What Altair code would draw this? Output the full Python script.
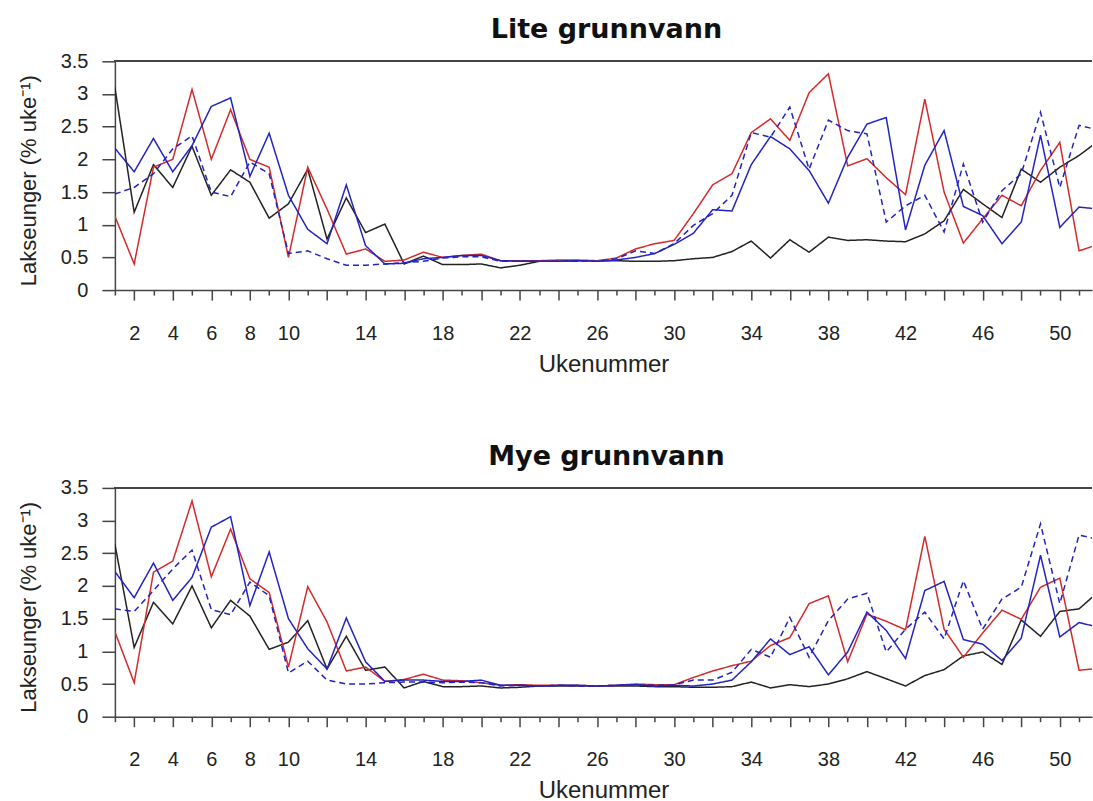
import altair as alt
import pandas as pd

weeks = list(range(1, 53))

# Lite grunnvann (top panel)
black_top = [3.10, 1.19, 1.92, 1.57, 2.20, 1.45, 1.84, 1.65, 1.10, 1.32, 1.85, 0.78, 1.41, 0.88, 1.01, 0.40,
             0.52, 0.39, 0.39, 0.40, 0.34, 0.38, 0.44, 0.44, 0.45, 0.45, 0.45, 0.44, 0.44, 0.45, 0.48, 0.50,
             0.59, 0.75, 0.49, 0.77, 0.58, 0.81, 0.76, 0.77, 0.75, 0.74, 0.86, 1.06, 1.54, 1.32, 1.11, 1.85,
             1.65, 1.88, 2.06, 2.28]
red_top = [1.13, 0.40, 1.88, 2.00, 3.07, 2.00, 2.76, 2.00, 1.88, 0.50, 1.88, 1.24, 0.55, 0.63, 0.44, 0.46,
           0.58, 0.50, 0.53, 0.55, 0.45, 0.45, 0.45, 0.46, 0.46, 0.45, 0.49, 0.63, 0.71, 0.76, 1.17, 1.61,
           1.78, 2.41, 2.62, 2.29, 3.02, 3.31, 1.90, 2.01, 1.72, 1.46, 2.92, 1.50, 0.72, 1.09, 1.45, 1.29,
           1.83, 2.26, 0.60, 0.70]
blue_top = [2.17, 1.81, 2.32, 1.81, 2.21, 2.81, 2.94, 1.74, 2.40, 1.45, 0.93, 0.71, 1.61, 0.68, 0.40, 0.41,
            0.48, 0.50, 0.53, 0.53, 0.45, 0.44, 0.44, 0.44, 0.45, 0.44, 0.46, 0.50, 0.56, 0.70, 0.87, 1.23,
            1.21, 1.92, 2.35, 2.16, 1.83, 1.33, 2.03, 2.54, 2.64, 0.92, 1.91, 2.44, 1.28, 1.14, 0.71, 1.04,
            2.37, 0.96, 1.27, 1.24]
dash_top = [1.47, 1.57, 1.78, 2.16, 2.36, 1.50, 1.43, 1.96, 1.78, 0.56, 0.60, 0.48, 0.38, 0.38, 0.40, 0.42,
            0.44, 0.49, 0.51, 0.51, 0.44, 0.44, 0.44, 0.44, 0.44, 0.44, 0.48, 0.60, 0.56, 0.71, 0.99, 1.17,
            1.45, 2.41, 2.34, 2.80, 1.85, 2.60, 2.44, 2.39, 1.04, 1.29, 1.45, 0.89, 1.93, 1.04, 1.52, 1.78,
            2.72, 1.57, 2.52, 2.45]

# Mye grunnvann (bottom panel)
black_bot = [2.64, 1.06, 1.75, 1.42, 2.00, 1.36, 1.78, 1.54, 1.03, 1.14, 1.47, 0.73, 1.23, 0.71, 0.76, 0.44,
             0.54, 0.46, 0.46, 0.47, 0.44, 0.45, 0.47, 0.47, 0.47, 0.47, 0.47, 0.47, 0.46, 0.46, 0.45, 0.45,
             0.46, 0.53, 0.44, 0.49, 0.46, 0.50, 0.58, 0.69, 0.58, 0.47, 0.63, 0.72, 0.93, 0.99, 0.80, 1.48,
             1.23, 1.61, 1.65, 1.91]
red_bot = [1.30, 0.52, 2.21, 2.38, 3.30, 2.14, 2.87, 2.11, 1.90, 0.76, 1.99, 1.45, 0.70, 0.76, 0.54, 0.57,
           0.65, 0.56, 0.55, 0.52, 0.48, 0.49, 0.48, 0.48, 0.48, 0.47, 0.48, 0.50, 0.49, 0.49, 0.60, 0.70,
           0.78, 0.85, 1.09, 1.21, 1.73, 1.85, 0.84, 1.57, 1.46, 1.33, 2.76, 1.34, 0.91, 1.28, 1.63, 1.49,
           1.98, 2.12, 0.71, 0.74]
blue_bot = [2.22, 1.82, 2.35, 1.78, 2.13, 2.90, 3.06, 1.70, 2.52, 1.50, 1.04, 0.73, 1.51, 0.84, 0.54, 0.56,
            0.56, 0.54, 0.54, 0.56, 0.48, 0.48, 0.47, 0.48, 0.48, 0.47, 0.48, 0.49, 0.47, 0.48, 0.47, 0.50,
            0.56, 0.84, 1.19, 0.95, 1.07, 0.64, 0.99, 1.60, 1.32, 0.89, 1.93, 2.07, 1.18, 1.11, 0.86, 1.20,
            2.47, 1.22, 1.44, 1.37]
dash_bot = [1.65, 1.61, 1.93, 2.26, 2.55, 1.64, 1.56, 2.06, 1.85, 0.67, 0.85, 0.56, 0.50, 0.50, 0.52, 0.53,
            0.53, 0.52, 0.53, 0.52, 0.47, 0.48, 0.47, 0.48, 0.47, 0.47, 0.48, 0.49, 0.48, 0.49, 0.56, 0.56,
            0.68, 1.03, 0.91, 1.52, 0.91, 1.47, 1.80, 1.89, 0.99, 1.34, 1.60, 1.19, 2.08, 1.34, 1.80, 1.98,
            2.95, 1.73, 2.78, 2.71]

series_names = ["svart", "rød", "blå", "blå stiplet"]
series_colors = ["#222222", "#d42a2a", "#2323c4", "#2323c4"]
series_dash = [[1, 0], [1, 0], [1, 0], [6, 4]]
y_ticks = [0, 0.5, 1, 1.5, 2, 2.5, 3, 3.5]
x_label_weeks = [2, 4, 6, 8, 10, 14, 18, 22, 26, 30, 34, 38, 42, 46, 50]

FONT = "Liberation Sans"
AXC = "#444444"


def make_df(vals):
    rows = []
    for name, arr in zip(series_names, vals):
        for w, v in zip(weeks, arr):
            rows.append({"week": w, "value": v, "series": name})
    return pd.DataFrame(rows)


label_test = "indexof(" + str(x_label_weeks) + ", datum.value) >= 0"


def panel(title, vals):
    df = make_df(vals)
    lines = alt.Chart(df).mark_line(strokeWidth=1.5, clip=True).encode(
        x=alt.X("week:Q",
                scale=alt.Scale(domain=[1, 51.67], nice=False, zero=False),
                axis=alt.Axis(values=list(range(1, 52)),
                              tickSize={"condition": {"test": "datum.value % 2 === 0", "value": 10}, "value": 5},
                              labelExpr=label_test + " ? datum.label : ''",
                              labelOverlap=False, labelFlush=False, labelPadding=23,
                              grid=False, title="Ukenummer", titlePadding=9,
                              titleFontSize=24)),
        y=alt.Y("value:Q",
                scale=alt.Scale(domain=[0, 3.5], nice=False),
                axis=alt.Axis(values=y_ticks, labelExpr="toString(datum.value)", tickSize=13,
                              labelPadding=14, labelOverlap=False,
                              grid=False, title="Lakseunger (% uke⁻¹)", titlePadding=20,
                              titleFontSize=22, titleY=119)),
        color=alt.Color("series:N", scale=alt.Scale(domain=series_names, range=series_colors), legend=None),
        strokeDash=alt.StrokeDash("series:N", scale=alt.Scale(domain=series_names, range=series_dash), legend=None),
        order=alt.Order("week:Q"),
    )
    top_rule = alt.Chart(df).mark_rule(color=AXC, strokeWidth=1.5).encode(y=alt.value(0))
    return alt.layer(top_rule, lines).properties(
        width=978, height=229,
        title=alt.TitleParams(title, font="DejaVu Sans", fontSize=27, fontWeight="bold", color="#111111",
                              anchor="middle", dx=3, offset=7),
    )


top = panel("Lite grunnvann", [black_top, red_top, blue_top, dash_top])
bot = panel("Mye grunnvann", [black_bot, red_bot, blue_bot, dash_bot])

chart = alt.vconcat(top, bot, spacing=67).properties(
    padding={"left": 17, "top": 16, "right": 0, "bottom": 0}
).configure_view(stroke=None).configure_axis(
    domainColor=AXC, domainWidth=1.5, tickColor=AXC, tickWidth=1.5,
    labelFont=FONT, labelFontSize=20, labelColor="#222222",
    titleFont=FONT, titleFontWeight="normal", titleColor="#222222",
)

chart.save("out.html", embed_options={"renderer": "svg", "actions": False})
